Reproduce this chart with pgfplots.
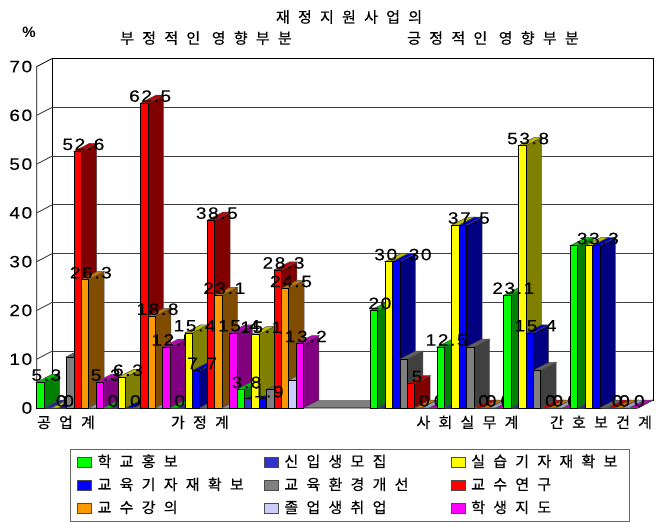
\documentclass[border=0pt]{standalone}
\usepackage{fontspec}
\usepackage{pgfplots}
\usepackage{pgfplotstable}
\pgfplotsset{compat=1.18}
\setmainfont{Liberation Sans}
\newfontfamily\ko[LetterSpace=55,FakeBold=0.4]{Noto Sans CJK KR}
\newfontfamily\num[LetterSpace=10,FakeBold=0.25,FakeStretch=1.15]{Liberation Sans}
\newcommand{\kofont}{\ko\fontsize{15}{15}\selectfont}
\newcommand{\numfont}{\num\fontsize{16.5}{16.5}\selectfont}

% series colours: front, side, top
\definecolor{f0}{HTML}{00FF00}\definecolor{d0}{HTML}{008000}\definecolor{t0}{HTML}{00C000}
\definecolor{f1}{HTML}{3333CC}\definecolor{d1}{HTML}{1A1A66}\definecolor{t1}{HTML}{262699}
\definecolor{f2}{HTML}{FFFF00}\definecolor{d2}{HTML}{808000}\definecolor{t2}{HTML}{C0C000}
\definecolor{f3}{HTML}{0000FF}\definecolor{d3}{HTML}{000080}\definecolor{t3}{HTML}{0000C0}
\definecolor{f4}{HTML}{808080}\definecolor{d4}{HTML}{404040}\definecolor{t4}{HTML}{606060}
\definecolor{f5}{HTML}{FF0000}\definecolor{d5}{HTML}{800000}\definecolor{t5}{HTML}{C00000}
\definecolor{f6}{HTML}{FF9900}\definecolor{d6}{HTML}{804D00}\definecolor{t6}{HTML}{C07300}
\definecolor{f7}{HTML}{CCCCFF}\definecolor{d7}{HTML}{666680}\definecolor{t7}{HTML}{9999C0}
\definecolor{f8}{HTML}{FF00FF}\definecolor{d8}{HTML}{800080}\definecolor{t8}{HTML}{C000C0}

% one row per category, one column per series
\pgfplotstableread{
s0   s1  s2   s3   s4   s5   s6   s7  s8
5.3  0   0    0    10.5 52.6 26.3 0   5.3
0    0   6.3  0    0    62.5 18.8 0   12.5
0    0   15.4 7.7  0    38.5 23.1 0   15.4
3.8  1.9 15.1 1.9  3.8  28.3 24.5 5.7 13.2
nan  nan nan  nan  nan  nan  nan  nan nan
20   0   30   30   10   5    0    0   0
12.5 0   37.5 37.5 12.5 0    0    0   0
23.1 0   53.8 15.4 7.7  0    0    0   0
33.3 0   33.3 33.3 0    0    0    0   0
}\barsdata

\def\nanstr{nan}
\def\barw{7.41}
\def\dx{15.5}
\def\dy{1.64}

% #1 group, #2 series, #3 value
\newcommand{\dbar}[3]{%
  \pgfmathsetmacro\xa{36.7+66.7*#1+\barw*#2}%
  \pgfmathsetmacro\xb{\xa+\barw}%
  \pgfmathsetmacro\xc{\xa+\dx}%
  \pgfmathsetmacro\xd{\xb+\dx}%
  \pgfmathsetmacro\yt{#3+\dy}%
  \edef\cmd{%
    \noexpand\addplot[forget plot,mark=none,fill=d#2,draw=black!70,line width=.5pt]
      coordinates {(\xb,0) (\xd,\dy) (\xd,\yt) (\xb,#3)} --cycle;
    \noexpand\addplot[forget plot,mark=none,fill=t#2,draw=black!70,line width=.5pt]
      coordinates {(\xa,#3) (\xc,\yt) (\xd,\yt) (\xb,#3)} --cycle;
    \noexpand\addplot[forget plot,mark=none,fill=f#2,draw=black,line width=.5pt]
      coordinates {(\xa,0) (\xb,0) (\xb,#3) (\xa,#3)} --cycle;
  }\cmd}

% value label: #1 group, #2 series, #3 value, #4 sideways shift
\newcommand{\dlabel}[4]{%
  \pgfmathsetmacro\xa{36.7+66.7*#1+\barw*#2+\barw/2+6+#4}%
  \pgfmathsetmacro\ya{#3+1.45}%
  \edef\cmd{\noexpand\node[inner sep=0pt,font=\noexpand\numfont] at (axis cs:\xa,\ya) {#3};}\cmd}

\begin{document}
\begin{tikzpicture}
\useasboundingbox (0,0) rectangle (656pt,522pt);
\node[font=\kofont] at (349pt,505pt) {재정지원사업의};
\node[font=\kofont] at (206pt,484pt) {부정적인 영향부분};
\node[font=\kofont] at (493pt,484pt) {긍정적인 영향부분};
\node[font=\bfseries\fontsize{15}{15}\selectfont] at (29pt,490pt) {\%};
\begin{axis}[
    at={(36.7pt,114pt)},
    anchor=south west,
    scale only axis,
    width=616.3pt,
    height=349.4pt,
    xmin=36.7, xmax=653,
    ymin=0, ymax=71.64,
    clip=false,
    axis line style={draw=none},
    major tick length=0pt,
    ytick={0,10,...,70},
    xtick={66,200,467.5,601},
    xticklabels={공업계,가정계,사회실무계,간호보건계},
    xticklabel style={font=\kofont,yshift=-4pt},
    yticklabel style={font=\numfont,xshift=-1pt},
    /pgf/number format/assume math mode=true,
    legend columns=3,
    area legend,
    legend cell align=left,
    legend image code/.code={\draw[#1,line width=.8pt] (0pt,-4.5pt) rectangle (14pt,5.5pt);},
    legend style={
      at={(0.5084,-0.2218)},anchor=center,
      draw=black!60,line width=1pt,
      font=\kofont,
      inner xsep=7pt,inner ysep=4pt,
      row sep=5pt,
      nodes={inner sep=1.5pt,anchor=west,text depth=3pt,text height=12pt},
      /tikz/column 1/.style={column sep=4pt},
      /tikz/column 2/.style={column sep=4pt,nodes={text width=161pt}},
      /tikz/column 3/.style={column sep=4pt},
      /tikz/column 4/.style={column sep=4pt,nodes={text width=161pt}},
      /tikz/column 5/.style={column sep=4pt},
      /tikz/column 6/.style={nodes={text width=150pt}},
    },
]
% walls and floor
\addplot[forget plot,mark=none,fill=white,draw=black,line width=1pt] coordinates {(52,1.64) (653,1.64) (653,71.64) (52,71.64)} --cycle;
\addplot[forget plot,mark=none,fill=gray,draw=none] coordinates {(36.7,0) (52,1.64) (653,1.64) (638,0)} --cycle;
\addplot[forget plot,mark=none,draw=black,line width=.8pt] coordinates {(36.7,0) (36.7,70) (52,71.64)};
\addplot[forget plot,mark=none,draw=black,line width=.8pt] coordinates {(36.7,0) (638,0) (653,1.64)};
\pgfplotsinvokeforeach{0,10,...,60}{
  \addplot[forget plot,mark=none,draw=black!75,line width=.9pt] coordinates {(36.7,#1) (52,#1+1.64)};
}
\addplot[forget plot,mark=none,draw=black!75,line width=.9pt] coordinates {(52,11.64) (653,11.64)};
\addplot[forget plot,mark=none,draw=black!75,line width=.9pt] coordinates {(52,21.64) (653,21.64)};
\addplot[forget plot,mark=none,draw=black!75,line width=.9pt] coordinates {(52,31.64) (653,31.64)};
\addplot[forget plot,mark=none,draw=black!75,line width=.9pt] coordinates {(52,41.64) (653,41.64)};
\addplot[forget plot,mark=none,draw=black!75,line width=.9pt] coordinates {(52,51.64) (653,51.64)};
\addplot[forget plot,mark=none,draw=black!75,line width=.9pt] coordinates {(52,61.64) (653,61.64)};
% bars left to right, labels of a group go over its own bars only
\foreach \g/\lbls in {
    0/{0/0,2/0,3/0,5/0,6/0,8/0},
    1/{0/0,2/0,3/0,5/0,6/0,8/0},
    2/{0/0,2/0,3/0,5/0,6/0,8/0},
    3/{0/0,2/0,3/0,5/0,6/0,8/0},
    4/{},
    5/{0/0,2/-9,3/18,5/0,6/0,8/0},
    6/{0/0,3/0,5/0,6/0,8/0},
    7/{0/0,2/0,3/0,5/0,6/0,8/0},
    8/{2/3,5/0,6/0,8/0}}{
  \foreach \s in {0,...,8}{
    \pgfplotstablegetelem{\g}{[index]\s}\of\barsdata
    \edef\v{\pgfplotsretval}
    \ifx\v\nanstr\else
      \dbar{\g}{\s}{\v}
    \fi
  }
  \foreach \s/\sh in \lbls{
    \pgfplotstablegetelem{\g}{[index]\s}\of\barsdata
    \edef\v{\pgfplotsretval}
    \dlabel{\g}{\s}{\v}{\sh}
  }
}
\addlegendimage{fill=f0,draw=black!70}\addlegendentry{학교홍보}
\addlegendimage{fill=f1,draw=black!70}\addlegendentry{신입생모집}
\addlegendimage{fill=f2,draw=black!70}\addlegendentry{실습기자재확보}
\addlegendimage{fill=f3,draw=black!70}\addlegendentry{교육기자재확보}
\addlegendimage{fill=f4,draw=black!70}\addlegendentry{교육환경개선}
\addlegendimage{fill=f5,draw=black!70}\addlegendentry{교수연구}
\addlegendimage{fill=f6,draw=black!70}\addlegendentry{교수강의}
\addlegendimage{fill=f7,draw=black!70}\addlegendentry{졸업생취업}
\addlegendimage{fill=f8,draw=black!70}\addlegendentry{학생지도}
\end{axis}
\end{tikzpicture}
\end{document}
